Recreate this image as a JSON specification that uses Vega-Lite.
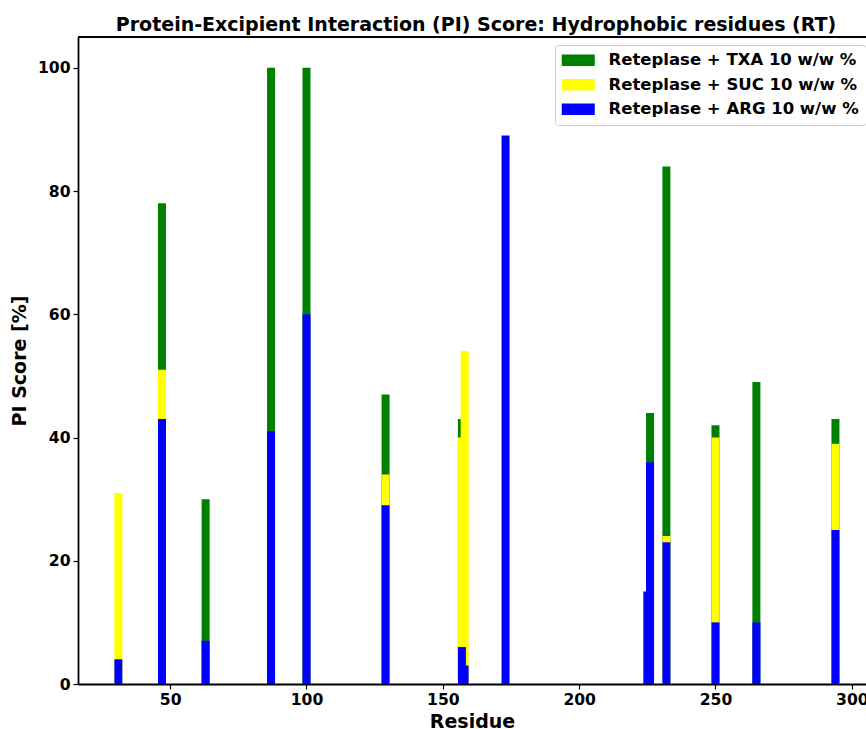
{
  "$schema": "https://vega.github.io/schema/vega-lite/v6.json",
  "width": 788,
  "height": 647,
  "autosize": "none",
  "padding": {"left": 78, "top": 37, "right": 0, "bottom": 45},
  "background": "white",
  "title": {
    "text": "Protein-Excipient Interaction (PI) Score: Hydrophobic residues (RT)",
    "font": "DejaVu Sans",
    "fontSize": 19,
    "fontWeight": "bold",
    "color": "black",
    "anchor": "middle",
    "dx": 4,
    "offset": 1
  },
  "config": {
    "view": {"stroke": null},
    "axis": {
      "labelFont": "DejaVu Sans",
      "labelFontWeight": "bold",
      "labelColor": "black",
      "titleFont": "DejaVu Sans",
      "titleFontWeight": "bold",
      "titleColor": "black",
      "domainColor": "black",
      "tickColor": "black",
      "grid": false
    }
  },
  "data": {
    "values": [
      {"residue": 47, "series": "Reteplase + TXA 10 w/w %", "score": 78},
      {"residue": 63, "series": "Reteplase + TXA 10 w/w %", "score": 30},
      {"residue": 87, "series": "Reteplase + TXA 10 w/w %", "score": 100},
      {"residue": 100, "series": "Reteplase + TXA 10 w/w %", "score": 100},
      {"residue": 129, "series": "Reteplase + TXA 10 w/w %", "score": 47},
      {"residue": 157, "series": "Reteplase + TXA 10 w/w %", "score": 43},
      {"residue": 226, "series": "Reteplase + TXA 10 w/w %", "score": 44},
      {"residue": 232, "series": "Reteplase + TXA 10 w/w %", "score": 84},
      {"residue": 250, "series": "Reteplase + TXA 10 w/w %", "score": 42},
      {"residue": 265, "series": "Reteplase + TXA 10 w/w %", "score": 49},
      {"residue": 294, "series": "Reteplase + TXA 10 w/w %", "score": 43},
      {"residue": 31, "series": "Reteplase + SUC 10 w/w %", "score": 31},
      {"residue": 47, "series": "Reteplase + SUC 10 w/w %", "score": 51},
      {"residue": 129, "series": "Reteplase + SUC 10 w/w %", "score": 34},
      {"residue": 157, "series": "Reteplase + SUC 10 w/w %", "score": 40},
      {"residue": 158, "series": "Reteplase + SUC 10 w/w %", "score": 54},
      {"residue": 232, "series": "Reteplase + SUC 10 w/w %", "score": 24},
      {"residue": 250, "series": "Reteplase + SUC 10 w/w %", "score": 40},
      {"residue": 294, "series": "Reteplase + SUC 10 w/w %", "score": 39},
      {"residue": 31, "series": "Reteplase + ARG 10 w/w %", "score": 4},
      {"residue": 47, "series": "Reteplase + ARG 10 w/w %", "score": 43},
      {"residue": 63, "series": "Reteplase + ARG 10 w/w %", "score": 7},
      {"residue": 87, "series": "Reteplase + ARG 10 w/w %", "score": 41},
      {"residue": 100, "series": "Reteplase + ARG 10 w/w %", "score": 60},
      {"residue": 129, "series": "Reteplase + ARG 10 w/w %", "score": 29},
      {"residue": 157, "series": "Reteplase + ARG 10 w/w %", "score": 6},
      {"residue": 158, "series": "Reteplase + ARG 10 w/w %", "score": 3},
      {"residue": 173, "series": "Reteplase + ARG 10 w/w %", "score": 89},
      {"residue": 225, "series": "Reteplase + ARG 10 w/w %", "score": 15},
      {"residue": 226, "series": "Reteplase + ARG 10 w/w %", "score": 36},
      {"residue": 232, "series": "Reteplase + ARG 10 w/w %", "score": 23},
      {"residue": 250, "series": "Reteplase + ARG 10 w/w %", "score": 10},
      {"residue": 265, "series": "Reteplase + ARG 10 w/w %", "score": 10},
      {"residue": 294, "series": "Reteplase + ARG 10 w/w %", "score": 25}
    ]
  },
  "layer": [
    {
      "mark": {"type": "bar", "size": 8, "clip": true},
      "encoding": {
        "x": {
          "field": "residue",
          "type": "quantitative",
          "scale": {"domain": [16.2, 305.2], "nice": false, "zero": false, "padding": 0},
          "axis": {
            "values": [50, 100, 150, 200, 250, 300],
            "title": "Residue",
            "titleFontSize": 19,
            "labelFontSize": 15.6,
            "tickSize": 5,
            "tickWidth": 1.2,
            "domainWidth": 1.8,
            "labelPadding": 3,
            "titlePadding": 5,
            "labelFlush": false
          }
        },
        "y": {
          "field": "score",
          "type": "quantitative",
          "stack": null,
          "scale": {"domain": [0, 105], "nice": false},
          "axis": {
            "values": [0, 20, 40, 60, 80, 100],
            "title": "PI Score [%]",
            "titleFontSize": 19,
            "labelFontSize": 15.6,
            "tickSize": 5,
            "tickWidth": 1.2,
            "domainWidth": 1.8,
            "labelPadding": 3,
            "titlePadding": 8,
            "labelFlush": false
          }
        },
        "color": {
          "field": "series",
          "type": "nominal",
          "scale": {
            "domain": ["Reteplase + TXA 10 w/w %", "Reteplase + SUC 10 w/w %", "Reteplase + ARG 10 w/w %"],
            "range": ["#008000", "#ffff00", "#0000ff"]
          },
          "legend": {
            "title": null,
            "orient": "none",
            "legendX": 477,
            "legendY": 8,
            "labelFont": "DejaVu Sans",
            "labelFontWeight": "bold",
            "labelFontSize": 16.5,
            "labelColor": "black",
            "symbolType": "M-2.54,-0.9H2.54V0.9H-2.54Z",
            "symbolSize": 169,
            "symbolOffset": 8,
            "symbolStrokeWidth": 0,
            "symbolOpacity": 1,
            "labelOffset": 22,
            "rowPadding": 7.5,
            "padding": 7,
            "strokeColor": "#cccccc",
            "fillColor": "white",
            "cornerRadius": 3,
            "labelLimit": 400
          }
        }
      }
    },
    {
      "mark": {"type": "rule", "color": "black", "strokeWidth": 1.8},
      "encoding": {
        "y": {"datum": 105}
      }
    }
  ]
}
